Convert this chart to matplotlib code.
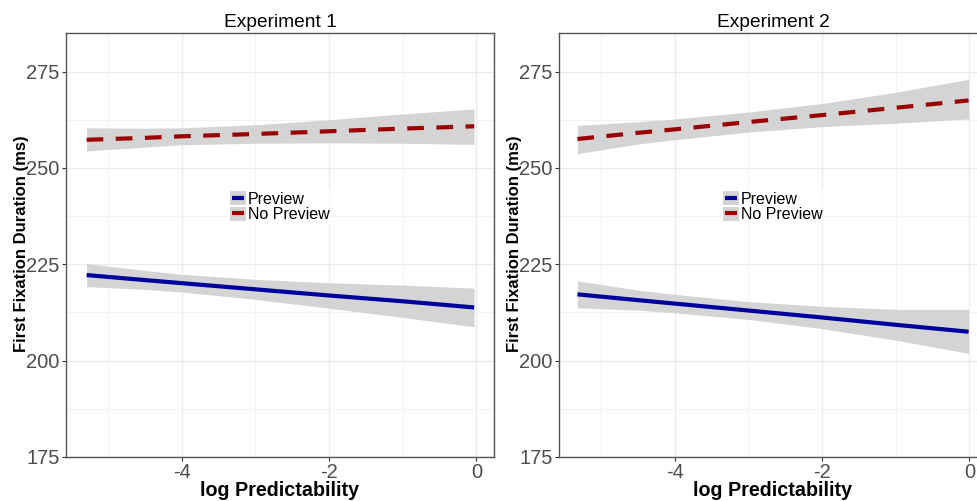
import matplotlib.pyplot as plt
from matplotlib.lines import Line2D
from matplotlib.patches import Patch
from matplotlib.legend_handler import HandlerTuple

plt.rcParams['font.family'] = ['Liberation Sans', 'DejaVu Sans']
plt.rcParams['axes.unicode_minus'] = False

# 予測値と信頼区間
titles = ['Experiment 1', 'Experiment 2']
x_pts = [[-5.29, -4.5, -4, -3, -2, -1, -0.03],
         [-5.32, -4.5, -4, -3, -2, -1, -0.01]]

prev_fit = [[222.2, 220.9, 220.1, 218.5, 216.9, 215.4, 213.8],
            [217.2, 215.7, 214.8, 213.0, 211.2, 209.3, 207.5]]
prev_lo = [[219.2, 218.5, 217.8, 215.9, 213.6, 211.2, 208.8],
           [213.7, 213.1, 212.4, 210.7, 208.3, 205.3, 201.9]]
prev_hi = [[225.2, 223.4, 222.4, 221.1, 220.2, 219.6, 218.8],
           [220.7, 218.3, 217.2, 215.3, 214.1, 213.3, 213.3]]

nopr_fit = [[257.3, 257.8, 258.2, 258.8, 259.5, 260.2, 260.8],
            [257.5, 259.1, 260.0, 261.9, 263.7, 265.6, 267.5]]
nopr_lo = [[254.4, 255.4, 256.0, 256.4, 256.5, 256.4, 256.1],
           [253.7, 256.2, 257.3, 259.3, 260.7, 261.6, 262.7]]
nopr_hi = [[260.4, 260.3, 260.4, 261.2, 262.5, 264.0, 265.3],
           [261.0, 262.0, 262.7, 264.5, 266.7, 269.6, 273.0]]

blue = '#00009C'
red = '#9B0000'
band = '#D4D4D4'
grid = '#EBEBEB'

fig = plt.figure(figsize=(9.78, 5.01), dpi=100)
lefts = [66 / 978, 559 / 978]
for i in range(2):
    ax = fig.add_axes([lefts[i], 44 / 501, 428 / 978, 424 / 501])
    xs = x_pts[i]
    ax.fill_between(xs, prev_lo[i], prev_hi[i], color=band, lw=0, zorder=2)
    ax.fill_between(xs, nopr_lo[i], nopr_hi[i], color=band, lw=0, zorder=2)
    ax.plot(xs, prev_fit[i], color=blue, lw=3, solid_capstyle='butt', zorder=3)
    ax.plot(xs, nopr_fit[i], color=red, lw=3, linestyle=(0, (4, 3)), zorder=3)

    ax.set_xlim(-5.57, 0.24)
    ax.set_ylim(175, 285)
    ax.set_xticks([-4, -2, 0])
    ax.set_xticks([-5, -3, -1], minor=True)
    ax.set_yticks([175, 200, 225, 250, 275])
    ax.set_yticks([187.5, 212.5, 237.5, 262.5], minor=True)
    ax.grid(True, which='major', color=grid, lw=1.0, zorder=0)
    ax.grid(True, which='minor', color='#F2F2F2', lw=0.8, zorder=0)
    ax.set_axisbelow(True)
    ax.tick_params(which='major', length=3, color='#333333', labelsize=14.5,
                   labelcolor='#4D4D4D', pad=1.5)
    ax.tick_params(which='minor', length=0)
    for s in ax.spines.values():
        s.set_color('#555555')
        s.set_linewidth(1.0)

    ax.set_title(titles[i], fontsize=13.8, pad=4)
    ax.set_xlabel('log Predictability', fontsize=14.2, fontweight='bold', labelpad=-1)
    ax.set_ylabel('First Fixation Duration (ms)', fontsize=12, fontweight='bold')
    ax.yaxis.set_label_coords(-0.087, 0.503)

    mk = dict(marker='_', markersize=8, markeredgewidth=3, linestyle='none')
    h_prev = (Patch(facecolor=band, edgecolor='none'), Line2D([], [], color=blue, **mk))
    h_nopr = (Patch(facecolor=band, edgecolor='none'), Line2D([], [], color=red, **mk))
    leg = ax.legend([h_prev, h_nopr], ['Preview', 'No Preview'],
                    handler_map={tuple: HandlerTuple(ndivide=1, pad=0)},
                    loc='center', bbox_to_anchor=(0.5, 0.59), frameon=True,
                    numpoints=1, fontsize=11.5, handlelength=1.0, handleheight=0.95,
                    handletextpad=0.1, labelspacing=0.0, borderpad=0.1,
                    borderaxespad=0, fancybox=False)
    leg.get_frame().set_facecolor('white')
    leg.get_frame().set_edgecolor('none')

fig.savefig('out.png', dpi=100)
